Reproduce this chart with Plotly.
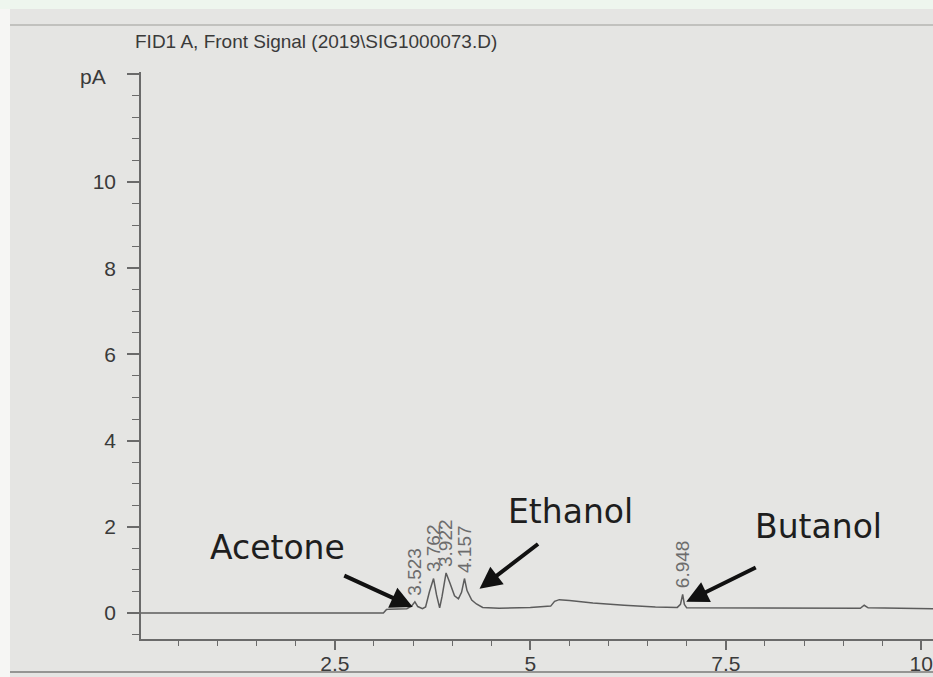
import plotly.graph_objects as go

# FID1 A front-signal trace: retention time (min) and detector response (pA)
rt = [0.02, 3.12, 3.16, 3.20, 3.42, 3.48, 3.523, 3.56, 3.62, 3.66,
      3.71, 3.762, 3.80, 3.84, 3.87, 3.922, 3.97, 4.03, 4.08, 4.12,
      4.157, 4.19, 4.25, 4.31, 4.39, 4.60, 5.00, 5.26, 5.31, 5.37,
      5.50, 5.80, 6.20, 6.60, 6.88, 6.92, 6.948, 6.97, 7.00, 7.50,
      8.50, 9.22, 9.27, 9.32, 10.15]
signal = [0.00, 0.00, 0.08, 0.09, 0.10, 0.16, 0.26, 0.15, 0.10, 0.14,
          0.50, 0.80, 0.42, 0.12, 0.38, 0.93, 0.70, 0.40, 0.33, 0.48,
          0.80, 0.52, 0.30, 0.21, 0.13, 0.11, 0.13, 0.16, 0.27, 0.31,
          0.29, 0.23, 0.18, 0.14, 0.13, 0.20, 0.43, 0.20, 0.12, 0.12,
          0.11, 0.11, 0.18, 0.12, 0.10]

# integrated peaks (retention times printed above each apex)
peak_rt = [3.523, 3.762, 3.922, 4.157, 6.948]

# compound call-outs: label centre, arrow tip (data units) and arrow tail offset (px)
compounds = ["Acetone", "Ethanol", "Butanol"]
label_x = [1.77, 5.51, 8.69]
label_y = [1.52, 2.36, 2.0]
tip_x = [3.496, 4.35, 6.994]
tip_y = [0.14, 0.56, 0.26]
tail_dx = [-70, 60, 71]
tail_dy = [-32, -46, -35]

# y-axis labelling: values every 2 pA, unit printed beside the top tick
y_tickvals = [0, 2, 4, 6, 8, 10, 12.5]
y_ticktext = ["0", "2", "4", "6", "8", "10", ""]
unit_label = "pA"

title_text = "FID1 A, Front Signal (2019\\SIG1000073.D)"

PAPER = "#e5e5e3"
AXIS = "#6a6a6a"
INK = "#3a3a3a"
TICK_FONT = dict(family="Liberation Sans, Arial", size=21, color=INK)

fig = go.Figure()
fig.add_trace(go.Scatter(x=rt, y=signal, mode="lines",
                         line=dict(color="#5c5c5c", width=1.5),
                         hoverinfo="skip", showlegend=False))

annotations = []
# retention-time labels, rotated, sitting just above each apex
for t in peak_rt:
    h = signal[rt.index(t)]
    annotations.append(dict(x=t, y=h, xref="x", yref="y", text=f"{t:.3f}",
                            showarrow=False, textangle=-90,
                            xanchor="center", yanchor="bottom", yshift=4,
                            font=dict(family="Liberation Sans Narrow, Liberation Sans, Arial",
                                      size=19, color="#6c6c6c")))

# compound names and their arrows
for name, lx, ly, tx, ty, dx, dy in zip(compounds, label_x, label_y,
                                         tip_x, tip_y, tail_dx, tail_dy):
    annotations.append(dict(x=lx, y=ly, xref="x", yref="y", text=name,
                            showarrow=False, xanchor="center", yanchor="middle",
                            font=dict(family="DejaVu Sans", size=33, color="#1e1e1e")))
    annotations.append(dict(x=tx, y=ty, xref="x", yref="y", text="",
                            showarrow=True, ax=dx, ay=dy, axref="pixel", ayref="pixel",
                            arrowhead=2, arrowsize=1.1, arrowwidth=4,
                            arrowcolor="#111111", standoff=0))

# unit at the top of the signal axis
annotations.append(dict(x=-0.0606, y=12.45, xref="paper", yref="y", text=unit_label,
                        showarrow=False, xanchor="center", yanchor="middle",
                        font=TICK_FONT))

# report header
annotations.append(dict(x=-0.0101, y=1.0545, xref="paper", yref="paper",
                        text=title_text, showarrow=False,
                        xanchor="left", yanchor="middle",
                        font=dict(family="Liberation Sans, Arial", size=19, color=INK)))

shapes = [
    # white page margin on the left
    dict(type="rect", xref="paper", yref="paper", x0=-0.2, x1=-0.1654,
         y0=-0.1, y1=1.2, fillcolor="#f6f6f4", line=dict(width=0), layer="below"),
    # pale strip across the very top
    dict(type="rect", xref="paper", yref="paper", x0=-0.2, x1=1.05,
         y0=1.111, y1=1.2, fillcolor="#eef6ee", line=dict(width=0), layer="below"),
    # faint rule near the top of the sheet
    dict(type="line", xref="paper", yref="paper", x0=-0.1654, x1=1.05,
         y0=1.0829, y1=1.0829, line=dict(color="#b4b4b2", width=1.5)),
    # rule along the bottom of the sheet
    dict(type="line", xref="paper", yref="paper", x0=-0.1654, x1=1.05,
         y0=-0.0582, y1=-0.0582, line=dict(color="#7a7a78", width=1.5)),
]

fig.update_layout(
    width=933, height=677,
    margin=dict(l=141, r=0, t=72, b=38, pad=0),
    paper_bgcolor=PAPER, plot_bgcolor=PAPER,
    showlegend=False,
    annotations=annotations,
    shapes=shapes,
    xaxis=dict(range=[0.02, 10.15], showgrid=False, zeroline=False,
               showline=True, linecolor=AXIS, linewidth=1.5,
               tickmode="linear", tick0=0, dtick=2.5,
               ticks="outside", ticklen=9, tickwidth=1.5, tickcolor=AXIS,
               ticklabelstandoff=-4,
               tickfont=TICK_FONT,
               minor=dict(tickmode="linear", tick0=0, dtick=0.5, ticks="outside",
                          ticklen=5, tickwidth=1.3, tickcolor=AXIS)),
    yaxis=dict(range=[-0.603, 12.552], showgrid=False, zeroline=False,
               showline=True, linecolor=AXIS, linewidth=1.5,
               tickmode="array", tickvals=y_tickvals, ticktext=y_ticktext,
               ticks="outside", ticklen=12, tickwidth=1.5, tickcolor=AXIS,
               ticklabelstandoff=7,
               tickfont=TICK_FONT,
               minor=dict(tickmode="linear", tick0=0, dtick=0.5, ticks="outside",
                          ticklen=7, tickwidth=1.3, tickcolor=AXIS)),
)

fig.write_html("out.html")
